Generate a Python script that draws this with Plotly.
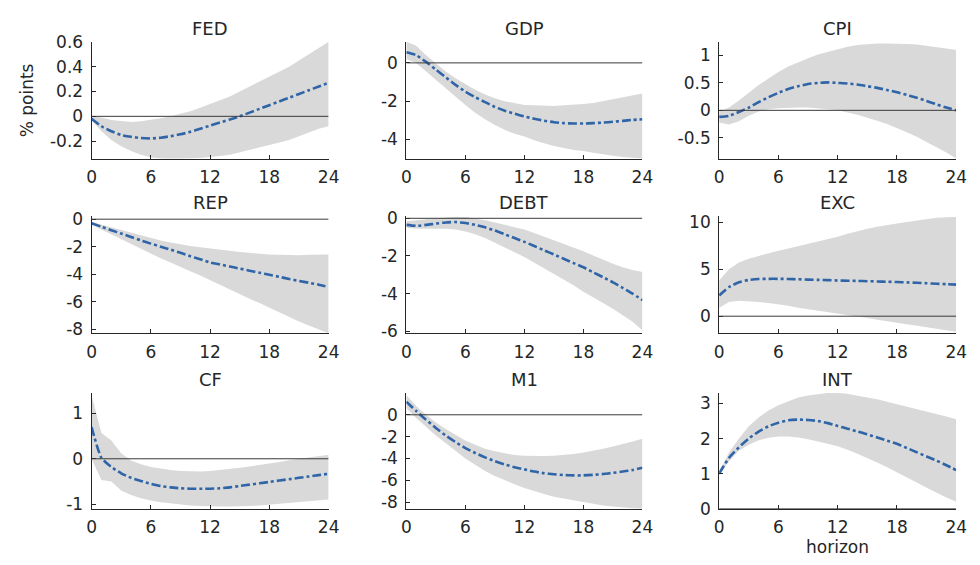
import plotly.graph_objects as go

horizon = list(range(25))
x_ticks = [0, 6, 12, 18, 24]
titles = ["FED", "GDP", "CPI", "REP", "DEBT", "EXC", "CF", "M1", "INT"]

fed_med = [-0.02, -0.08, -0.12, -0.15, -0.165, -0.175, -0.178, -0.172, -0.16, -0.145, -0.125, -0.1, -0.075, -0.05, -0.025, 0.0, 0.03, 0.06, 0.09, 0.12, 0.15, 0.18, 0.21, 0.24, 0.27]
fed_up = [0.0, -0.01, -0.03, -0.04, -0.045, -0.04, -0.03, -0.015, 0.0, 0.02, 0.04, 0.07, 0.1, 0.13, 0.16, 0.2, 0.24, 0.28, 0.32, 0.36, 0.4, 0.45, 0.5, 0.55, 0.6]
fed_lo = [-0.03, -0.12, -0.19, -0.24, -0.28, -0.31, -0.33, -0.34, -0.345, -0.345, -0.34, -0.335, -0.33, -0.32, -0.31, -0.29, -0.27, -0.25, -0.23, -0.21, -0.19, -0.16, -0.13, -0.1, -0.08]

gdp_med = [0.55, 0.4, 0.05, -0.35, -0.75, -1.15, -1.5, -1.8, -2.05, -2.3, -2.5, -2.65, -2.8, -2.92, -3.02, -3.1, -3.15, -3.17, -3.17, -3.15, -3.12, -3.08, -3.03, -2.98, -2.95]
gdp_up = [1.1, 0.9, 0.4, -0.05, -0.45, -0.8, -1.1, -1.4, -1.65, -1.85, -2.0, -2.1, -2.2, -2.22, -2.25, -2.25, -2.22, -2.2, -2.15, -2.1, -2.0, -1.9, -1.8, -1.7, -1.6]
gdp_lo = [0.2, 0.0, -0.4, -0.85, -1.3, -1.75, -2.2, -2.6, -2.95, -3.25, -3.5, -3.7, -3.85, -4.05, -4.2, -4.35, -4.45, -4.55, -4.6, -4.7, -4.78, -4.85, -4.92, -4.97, -5.0]

cpi_med = [-0.12, -0.1, -0.03, 0.05, 0.15, 0.24, 0.32, 0.39, 0.44, 0.48, 0.5, 0.51, 0.5, 0.49, 0.47, 0.44, 0.41, 0.37, 0.33, 0.28, 0.23, 0.17, 0.11, 0.05, 0.0]
cpi_up = [-0.02, 0.05, 0.18, 0.32, 0.46, 0.58, 0.7, 0.8, 0.88, 0.95, 1.02, 1.07, 1.12, 1.16, 1.19, 1.21, 1.22, 1.22, 1.22, 1.21, 1.2, 1.18, 1.16, 1.13, 1.1]
cpi_lo = [-0.22, -0.26, -0.2, -0.1, -0.02, 0.02, 0.04, 0.05, 0.05, 0.05, 0.04, 0.02, 0.0, -0.04, -0.08, -0.13, -0.19, -0.25, -0.32, -0.4, -0.48, -0.57, -0.67, -0.77, -0.88]

rep_med = [-0.3, -0.55, -0.8, -1.05, -1.3, -1.55, -1.78, -2.0, -2.22, -2.45, -2.7, -2.92, -3.15, -3.3, -3.45, -3.6, -3.75, -3.9, -4.05, -4.2, -4.35, -4.5, -4.63, -4.77, -4.95]
rep_up = [-0.2, -0.4, -0.6, -0.8, -1.0, -1.2, -1.4, -1.55, -1.7, -1.85, -1.95, -2.05, -2.15, -2.25, -2.3, -2.4, -2.45, -2.52, -2.58, -2.6, -2.62, -2.62, -2.6, -2.58, -2.58]
rep_lo = [-0.4, -0.75, -1.1, -1.45, -1.8, -2.15, -2.5, -2.85, -3.15, -3.45, -3.8, -4.1, -4.4, -4.75, -5.1, -5.45, -5.8, -6.1, -6.4, -6.75, -7.1, -7.45, -7.75, -8.05, -8.3]

debt_med = [-0.35, -0.4, -0.35, -0.28, -0.22, -0.2, -0.25, -0.35, -0.48, -0.65, -0.85, -1.05, -1.25, -1.47, -1.7, -1.92, -2.15, -2.38, -2.6, -2.87, -3.13, -3.4, -3.7, -4.0, -4.35]
debt_up = [-0.15, -0.12, -0.05, 0.0, 0.05, 0.08, 0.07, 0.0, -0.1, -0.22, -0.35, -0.47, -0.6, -0.78, -0.97, -1.16, -1.35, -1.55, -1.75, -1.97, -2.2, -2.42, -2.6, -2.75, -2.85]
debt_lo = [-0.5, -0.55, -0.55, -0.55, -0.55, -0.6, -0.7, -0.85, -1.05, -1.3, -1.55, -1.8, -2.05, -2.35, -2.65, -2.95, -3.25, -3.55, -3.9, -4.2, -4.5, -4.8, -5.15, -5.5, -5.95]

exc_med = [2.2, 3.1, 3.6, 3.85, 3.95, 3.97, 3.97, 3.95, 3.92, 3.89, 3.86, 3.83, 3.8, 3.77, 3.75, 3.72, 3.69, 3.66, 3.63, 3.59, 3.55, 3.5, 3.45, 3.4, 3.35]
exc_up = [3.8, 5.0, 5.7, 6.1, 6.4, 6.7, 6.95, 7.2, 7.45, 7.65, 7.9, 8.15, 8.45, 8.75, 9.05, 9.3, 9.5, 9.7, 9.85, 10.0, 10.15, 10.3, 10.45, 10.5, 10.55]
exc_lo = [0.9, 1.5, 1.65, 1.6, 1.5, 1.4, 1.28, 1.1, 0.9, 0.7, 0.55, 0.4, 0.25, 0.1, -0.05, -0.2, -0.38, -0.55, -0.75, -0.9, -1.05, -1.2, -1.35, -1.5, -1.65]

cf_med = [0.7, 0.02, -0.18, -0.32, -0.42, -0.49, -0.55, -0.6, -0.63, -0.65, -0.66, -0.66, -0.66, -0.65, -0.63, -0.6, -0.57, -0.54, -0.51, -0.48, -0.45, -0.42, -0.39, -0.36, -0.33]
cf_up = [1.4, 0.57, 0.4, 0.12, -0.04, -0.12, -0.18, -0.22, -0.25, -0.27, -0.28, -0.28, -0.27, -0.25, -0.23, -0.2, -0.17, -0.14, -0.1, -0.07, -0.03, 0.0, 0.03, 0.06, 0.09]
cf_lo = [0.0, -0.47, -0.5, -0.7, -0.8, -0.87, -0.92, -0.96, -0.99, -1.01, -1.03, -1.04, -1.05, -1.05, -1.05, -1.05, -1.04, -1.03, -1.02, -1.0, -0.98, -0.96, -0.94, -0.92, -0.9]

m1_med = [1.2, 0.35, -0.45, -1.2, -1.9, -2.5, -3.05, -3.5, -3.9, -4.25, -4.55, -4.8, -5.0, -5.2, -5.35, -5.45, -5.52, -5.55, -5.55, -5.5, -5.42, -5.32, -5.2, -5.05, -4.85]
m1_up = [1.8, 0.8, 0.0, -0.7, -1.3, -1.85, -2.35, -2.75, -3.1, -3.35, -3.55, -3.68, -3.75, -3.78, -3.78, -3.75, -3.7, -3.6, -3.45, -3.3, -3.1, -2.9, -2.7, -2.45, -2.2]
m1_lo = [0.6, -0.3, -1.1, -1.9, -2.6, -3.3, -4.0, -4.6, -5.15, -5.6, -6.0, -6.35, -6.7, -7.0, -7.25, -7.5, -7.7, -7.85, -8.0, -8.15, -8.3, -8.4, -8.5, -8.55, -8.6]

int_med = [1.0, 1.45, 1.75, 2.0, 2.2, 2.35, 2.45, 2.52, 2.54, 2.53, 2.5, 2.44, 2.36, 2.28, 2.2, 2.12, 2.03, 1.94, 1.85, 1.73, 1.61, 1.49, 1.37, 1.24, 1.1]
int_up = [1.05, 1.6, 2.0, 2.35, 2.6, 2.8, 2.95, 3.07, 3.17, 3.23, 3.27, 3.3, 3.3, 3.28, 3.22, 3.18, 3.12, 3.05, 2.98, 2.92, 2.86, 2.79, 2.71, 2.63, 2.55]
int_lo = [0.95, 1.35, 1.65, 1.82, 1.95, 2.02, 2.06, 2.06, 2.03, 1.98, 1.92, 1.85, 1.78, 1.68, 1.57, 1.45, 1.32, 1.18, 1.05, 0.9, 0.75, 0.6, 0.45, 0.32, 0.2]

medians = [fed_med, gdp_med, cpi_med, rep_med, debt_med, exc_med, cf_med, m1_med, int_med]
uppers = [fed_up, gdp_up, cpi_up, rep_up, debt_up, exc_up, cf_up, m1_up, int_up]
lowers = [fed_lo, gdp_lo, cpi_lo, rep_lo, debt_lo, exc_lo, cf_lo, m1_lo, int_lo]

y_ranges = [[-0.34, 0.6], [-5.0, 1.1], [-0.88, 1.25],
            [-8.3, 0.2], [-6.1, 0.1], [-1.8, 10.6],
            [-1.1, 1.45], [-8.6, 2.0], [0.0, 3.3]]
y_ticks = [[-0.2, 0, 0.2, 0.4, 0.6], [-4, -2, 0], [-0.5, 0, 0.5, 1],
           [-8, -6, -4, -2, 0], [-6, -4, -2, 0], [0, 5, 10],
           [-1, 0, 1], [-8, -6, -4, -2, 0], [0, 1, 2, 3]]
y_ticklabels = [["-0.2", "0", "0.2", "0.4", "0.6"], ["-4", "-2", "0"], ["-0.5", "0", "0.5", "1"],
                ["-8", "-6", "-4", "-2", "0"], ["-6", "-4", "-2", "0"], ["0", "5", "10"],
                ["-1", "0", "1"], ["-8", "-6", "-4", "-2", "0"], ["0", "1", "2", "3"]]

W, H = 980, 565
col_px = [(88, 329), (408, 648), (726, 967)]
row_px = [(33, 154), (214, 335), (397, 517)]

FONT = "DejaVu Sans, Liberation Sans, Arial, sans-serif"
TXT = "#262626"
LINE = "#2F65A7"
BAND = "#D9D9D9"

fig = go.Figure()
layout = dict(width=W, height=H, margin=dict(l=0, r=0, t=0, b=0),
              paper_bgcolor="white", plot_bgcolor="white", showlegend=False,
              font=dict(family=FONT, size=16, color=TXT))
shapes = []
annotations = []

for i in range(9):
    r, c = divmod(i, 3)
    n = i + 1
    xa = "x" if n == 1 else f"x{n}"
    ya = "y" if n == 1 else f"y{n}"
    xk = "xaxis" if n == 1 else f"xaxis{n}"
    yk = "yaxis" if n == 1 else f"yaxis{n}"
    x0, x1 = col_px[c]
    t0, t1 = row_px[r]
    layout[xk] = dict(domain=[x0 / W, x1 / W], anchor=ya, range=[0, 24],
                      tickvals=x_ticks, ticktext=[str(v) for v in x_ticks],
                      ticks="inside", ticklen=4, tickcolor=TXT, tickwidth=1,
                      ticklabelstandoff=3,
                      showline=True, linecolor=TXT, linewidth=1, mirror=False,
                      showgrid=False, zeroline=False,
                      tickfont=dict(family=FONT, size=17, color=TXT))
    layout[yk] = dict(domain=[1 - t1 / H, 1 - t0 / H], anchor=xa, range=y_ranges[i],
                      tickvals=y_ticks[i], ticktext=y_ticklabels[i],
                      ticks="inside", ticklen=4, tickcolor=TXT, tickwidth=1,
                      ticklabelstandoff=4,
                      showline=True, linecolor=TXT, linewidth=1, mirror=False,
                      showgrid=False, zeroline=False,
                      tickfont=dict(family=FONT, size=17, color=TXT))
    # band
    fig.add_trace(go.Scatter(x=horizon + horizon[::-1], y=uppers[i] + lowers[i][::-1],
                             fill="toself", fillcolor=BAND, line=dict(width=0, color=BAND),
                             mode="lines", hoverinfo="skip", xaxis=xa, yaxis=ya,
                             cliponaxis=True))
    # zero line
    shapes.append(dict(type="line", xref=xa, yref=ya, x0=0, x1=24, y0=0, y1=0,
                       line=dict(color="#3a3a3a", width=1), layer="above"))
    # median
    fig.add_trace(go.Scatter(x=horizon, y=medians[i], mode="lines",
                             line=dict(color=LINE, width=2.6, dash="9px,3px,3px,3px", shape="spline", smoothing=0.6),
                             xaxis=xa, yaxis=ya))
    # title
    annotations.append(dict(text=titles[i], xref="paper", yref="paper",
                            x=(x0 + x1) / 2 / W, y=1 - (t0 - 14) / H,
                            xanchor="center", yanchor="middle", showarrow=False,
                            font=dict(family=FONT, size=18, color=TXT)))

annotations.append(dict(text="% points", xref="paper", yref="paper",
                        x=22 / W, y=1 - 94 / H, textangle=-90,
                        xanchor="center", yanchor="middle", showarrow=False,
                        font=dict(family=FONT, size=17, color=TXT)))
annotations.append(dict(text="horizon", xref="paper", yref="paper",
                        x=846.5 / W, y=-3 / H, borderpad=0,
                        xanchor="center", yanchor="bottom", showarrow=False,
                        font=dict(family=FONT, size=17, color=TXT)))

layout["shapes"] = shapes
layout["annotations"] = annotations
fig.update_layout(**layout)
fig.write_html("out.html")
